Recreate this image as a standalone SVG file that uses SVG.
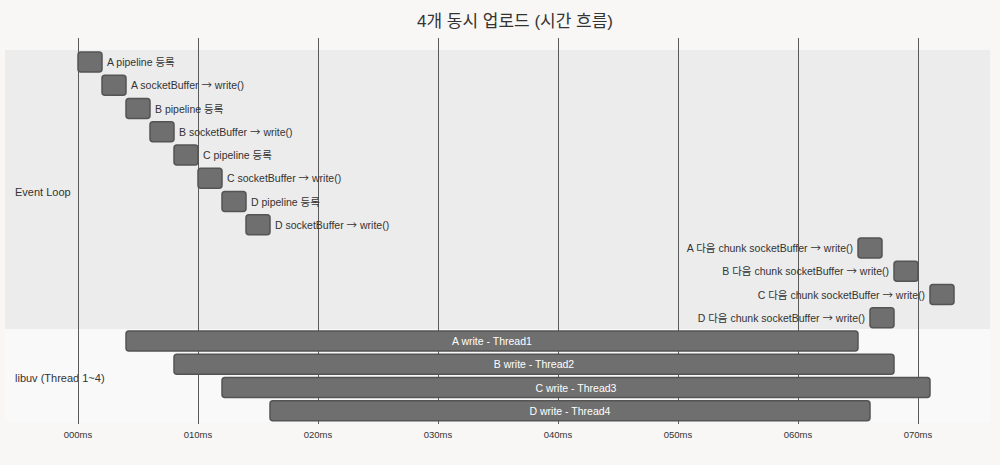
<svg xmlns="http://www.w3.org/2000/svg" width="1000" height="465" viewBox="0 0 1000 465">
<style>
text{font-family:"Liberation Sans","Noto Sans CJK KR",sans-serif;}
.title{font-size:17px;fill:#333;text-anchor:middle;}
.sec{font-size:11px;fill:#333;}
.task rect{fill:#6f6f6f;stroke:#545454;stroke-width:1.5;}
.lbl{font-size:10.5px;fill:#333;}
.ar{font-family:"Noto Sans CJK KR","DejaVu Sans",sans-serif;}
.in{font-size:10.5px;fill:#fff;text-anchor:middle;}
.end{text-anchor:end;}
.grid line{stroke:#5a5a5a;stroke-width:1;}
.tick{font-size:9.5px;fill:#333;text-anchor:middle;}
</style>
<rect width="1000" height="465" fill="#f8f7f6"/>
<text class="title" x="515" y="27">4개 동시 업로드 (시간 흐름)</text>
<g id="sections">
<rect x="5" y="50" width="985" height="279" fill="#ececec"/>
<rect x="5" y="329" width="985" height="93" fill="#f9f9f9"/>
<text class="sec" x="15" y="196">Event Loop</text>
<text class="sec" x="15" y="382">libuv (Thread 1~4)</text>
</g>
<g id="grid" class="grid">
<line x1="78.5" y1="38" x2="78.5" y2="424"/>
<line x1="198.5" y1="38" x2="198.5" y2="424"/>
<line x1="318.5" y1="38" x2="318.5" y2="424"/>
<line x1="438.5" y1="38" x2="438.5" y2="424"/>
<line x1="558.5" y1="38" x2="558.5" y2="424"/>
<line x1="678.5" y1="38" x2="678.5" y2="424"/>
<line x1="798.5" y1="38" x2="798.5" y2="424"/>
<line x1="918.5" y1="38" x2="918.5" y2="424"/>
</g>
<g id="ticks">
<text class="tick" x="78" y="438">000ms</text>
<text class="tick" x="198" y="438">010ms</text>
<text class="tick" x="318" y="438">020ms</text>
<text class="tick" x="438" y="438">030ms</text>
<text class="tick" x="558" y="438">040ms</text>
<text class="tick" x="678" y="438">050ms</text>
<text class="tick" x="798" y="438">060ms</text>
<text class="tick" x="918" y="438">070ms</text>
</g>
<g id="t1" class="task"><rect x="78" y="52" width="24" height="20" rx="3"/><text class="lbl" x="107" y="66">A pipeline 등록</text></g>
<g id="t2" class="task"><rect x="102" y="75.25" width="24" height="20" rx="3"/><text class="lbl" x="131" y="89.25">A socketBuffer <tspan class="ar">→</tspan> write()</text></g>
<g id="t3" class="task"><rect x="126" y="98.5" width="24" height="20" rx="3"/><text class="lbl" x="155" y="112.5">B pipeline 등록</text></g>
<g id="t4" class="task"><rect x="150" y="121.75" width="24" height="20" rx="3"/><text class="lbl" x="179" y="135.75">B socketBuffer <tspan class="ar">→</tspan> write()</text></g>
<g id="t5" class="task"><rect x="174" y="145" width="24" height="20" rx="3"/><text class="lbl" x="203" y="159">C pipeline 등록</text></g>
<g id="t6" class="task"><rect x="198" y="168.25" width="24" height="20" rx="3"/><text class="lbl" x="227" y="182.25">C socketBuffer <tspan class="ar">→</tspan> write()</text></g>
<g id="t7" class="task"><rect x="222" y="191.5" width="24" height="20" rx="3"/><text class="lbl" x="251" y="205.5">D pipeline 등록</text></g>
<g id="t8" class="task"><rect x="246" y="214.75" width="24" height="20" rx="3"/><text class="lbl" x="275" y="228.75">D socketBuffer <tspan class="ar">→</tspan> write()</text></g>
<g id="t9" class="task"><rect x="858" y="238" width="24" height="20" rx="3"/><text class="lbl end" x="853" y="252">A 다음 chunk socketBuffer <tspan class="ar">→</tspan> write()</text></g>
<g id="t10" class="task"><rect x="894" y="261.25" width="24" height="20" rx="3"/><text class="lbl end" x="889" y="275.25">B 다음 chunk socketBuffer <tspan class="ar">→</tspan> write()</text></g>
<g id="t11" class="task"><rect x="930" y="284.5" width="24" height="20" rx="3"/><text class="lbl end" x="925" y="298.5">C 다음 chunk socketBuffer <tspan class="ar">→</tspan> write()</text></g>
<g id="t12" class="task"><rect x="870" y="307.75" width="24" height="20" rx="3"/><text class="lbl end" x="865" y="321.75">D 다음 chunk socketBuffer <tspan class="ar">→</tspan> write()</text></g>
<g id="t13" class="task"><rect x="126" y="331" width="732" height="20" rx="3"/><text class="in" x="492" y="345">A write - Thread1</text></g>
<g id="t14" class="task"><rect x="174" y="354.25" width="720" height="20" rx="3"/><text class="in" x="534" y="368.25">B write - Thread2</text></g>
<g id="t15" class="task"><rect x="222" y="377.5" width="708" height="20" rx="3"/><text class="in" x="576" y="391.5">C write - Thread3</text></g>
<g id="t16" class="task"><rect x="270" y="400.75" width="600" height="20" rx="3"/><text class="in" x="570" y="414.75">D write - Thread4</text></g>
</svg>
